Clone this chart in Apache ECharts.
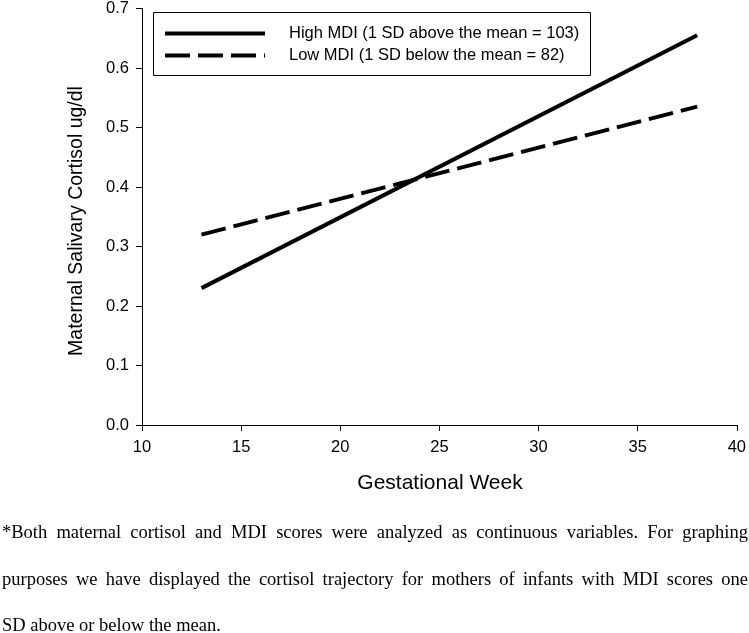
<!DOCTYPE html>
<html>
<head>
<meta charset="utf-8">
<script src="https://cdn.jsdelivr.net/npm/echarts@6/dist/echarts.min.js"></script>
<style>
html,body{margin:0;padding:0;background:#fff;}
#chart{width:749px;height:633px;}
</style>
</head>
<body>
<div id="chart"></div>
<script>
// ---- data ----
var seriesNames = ['High MDI (1 SD above the mean = 103)', 'Low MDI (1 SD below the mean = 82)'];
var weeks = [13, 38];
var highMDI = [0.23, 0.655];
var lowMDI = [0.32, 0.535];
var xTicks = [10, 15, 20, 25, 30, 35, 40];
var yTicks = [0.0, 0.1, 0.2, 0.3, 0.4, 0.5, 0.6, 0.7];
var xTitle = 'Gestational Week';
var yTitle = 'Maternal Salivary Cortisol ug/dl';
var captionLines = [
  '*Both maternal cortisol and MDI scores were analyzed as continuous variables.  For graphing',
  'purposes we have displayed the cortisol trajectory for mothers of infants with MDI scores one',
  'SD above or below the mean.'
];

function pairs(xs, ys) { return xs.map(function (x, i) { return [x, ys[i]]; }); }

// ---- caption (justified) ----
var capFont = '18.5px "Liberation Serif", "Times New Roman", serif';
var mctx = document.createElement('canvas').getContext('2d');
mctx.font = capFont;
var capLeft = 2, capRight = 748, capY = [535, 582, 628];
var graphics = [];
captionLines.forEach(function (line, li) {
  var words = line.split(/\s+/);
  var justify = li < captionLines.length - 1;
  var widths = words.map(function (w) { return mctx.measureText(w).width; });
  var total = widths.reduce(function (a, b) { return a + b; }, 0);
  var gap = justify ? (capRight - capLeft - total) / (words.length - 1) : mctx.measureText(' ').width;
  var x = capLeft;
  words.forEach(function (w, i) {
    graphics.push({
      type: 'text', left: x, top: capY[li] - 11,
      style: { text: w, font: capFont, fill: '#000' }
    });
    x += widths[i] + gap;
  });
});
// legend box
graphics.push({
  type: 'rect', shape: { x: 153.5, y: 12.5, width: 437, height: 63 },
  style: { fill: 'none', stroke: '#000', lineWidth: 1 }
});
// y axis title
graphics.push({
  type: 'text', x: 77, y: 221, rotation: Math.PI / 2,
  style: { text: yTitle, font: '19.5px "Liberation Sans", Arial, sans-serif', fill: '#000', align: 'center', verticalAlign: 'middle' }
});
// x axis title
graphics.push({
  type: 'text', x: 440, y: 483,
  style: { text: xTitle, font: '21px "Liberation Sans", Arial, sans-serif', fill: '#000', align: 'center', verticalAlign: 'middle' }
});

var chart = echarts.init(document.getElementById('chart'), null, { renderer: 'canvas' });
var axisFont = '"Liberation Sans", Arial, sans-serif';
chart.setOption({
  animation: false,
  backgroundColor: '#fff',
  grid: { left: 142, right: 10, top: 6, bottom: 208, containLabel: false },
  legend: {
    left: 163, top: 25, orient: 'vertical',
    itemWidth: 100, itemHeight: 16, itemGap: 5,
    padding: 0,
    data: seriesNames,
    itemStyle: { opacity: 0, borderWidth: 0 },
    lineStyle: { width: 4, cap: 'butt' },
    textStyle: { fontFamily: axisFont, fontSize: 16.5, color: '#000', padding: [0, 0, 0, 19] }
  },
  xAxis: {
    type: 'value', min: xTicks[0], max: xTicks[xTicks.length - 1], interval: 5,
    axisLine: { lineStyle: { color: '#000', width: 1 } },
    axisTick: { show: true, length: 6, lineStyle: { color: '#000' } },
    axisLabel: { fontFamily: axisFont, fontSize: 16.5, color: '#000', margin: 14 },
    splitLine: { show: false }
  },
  yAxis: {
    type: 'value', min: yTicks[0], max: yTicks[yTicks.length - 1], interval: 0.1,
    axisLine: { show: true, lineStyle: { color: '#000', width: 1 } },
    axisTick: { show: true, length: 6, lineStyle: { color: '#000' } },
    axisLabel: { fontFamily: axisFont, fontSize: 16.5, color: '#000', margin: 13,
      formatter: function (v) { return v.toFixed(1); } },
    splitLine: { show: false }
  },
  series: [
    { name: seriesNames[0], type: 'line', data: pairs(weeks, highMDI), symbol: 'none',
      lineStyle: { color: '#000', width: 4, type: 'solid', cap: 'butt' }, itemStyle: { color: '#000' } },
    { name: seriesNames[1], type: 'line', data: pairs(weeks, lowMDI), symbol: 'none',
      lineStyle: { color: '#000', width: 4, type: [25, 8], cap: 'butt' }, itemStyle: { color: '#000' } }
  ],
  graphic: graphics
});
</script>
</body>
</html>
